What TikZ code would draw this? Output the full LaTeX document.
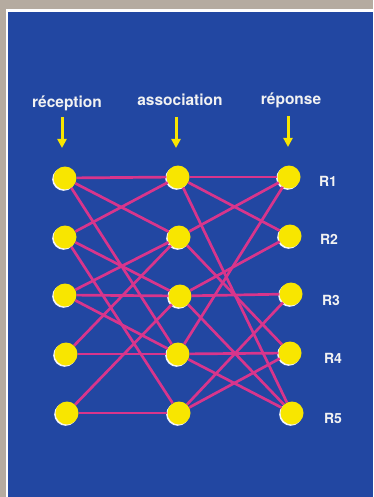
\documentclass[tikz,border=0pt]{standalone}
\usepackage{fontspec}
\setmainfont{TeX Gyre Heros}
\usetikzlibrary{arrows.meta,shadows}
\definecolor{framegray}{HTML}{B5ABA0}
\definecolor{bgblue}{HTML}{2247A2}
\definecolor{nyellow}{HTML}{F8E600}
\definecolor{nmag}{HTML}{D8358C}
\definecolor{txtwhite}{HTML}{F2F2F2}
\tikzset{
  neuron/.style={circle, fill=nyellow, minimum size=23pt, inner sep=0pt,
    drop shadow={shadow xshift=-1.3pt, shadow yshift=-1.3pt, fill=white, opacity=0.95}},
  link/.style={draw=nmag, line width=2.7pt},
  arr/.style={draw=nyellow, line width=3pt, -{Triangle[length=9pt,width=9pt]}},
  head/.style={text=txtwhite, font=\bfseries\fontsize{15.5}{16}\selectfont, anchor=base, inner sep=0pt},
  rlab/.style={text=txtwhite, font=\bfseries\fontsize{14}{15}\selectfont, anchor=base, inner sep=0pt}
}
\begin{document}
\begin{tikzpicture}[x=1pt,y=-1pt]
\useasboundingbox (0,0) rectangle (373,497);
\fill[framegray] (0,0) rectangle (373,497);
\fill[white] (5.5,9.5) rectangle (373,497);
\fill[bgblue] (8,12) rectangle (373,497);

% headings
\node[head] (hr) at (67,108) {réception};
\node[head] (ha) at (180,106) {association};
\node[head] (hp) at (291,105) {réponse};

% arrows
\coordinate (a1s) at (62,117); \coordinate (a1e) at (62,148);
\coordinate (a2s) at (176,117); \coordinate (a2e) at (176,148);
\coordinate (a3s) at (288,116); \coordinate (a3e) at (288,147);
\draw[arr] (a1s) -- (a1e);
\draw[arr] (a2s) -- (a2e);
\draw[arr] (a3s) -- (a3e);

% neurons
\node[neuron] (L1) at (65,178) {};
\node[neuron] (L2) at (65,237) {};
\node[neuron] (L3) at (65,295) {};
\node[neuron] (L4) at (66,354) {};
\node[neuron] (L5) at (67,413) {};
\node[neuron] (M1) at (178,177) {};
\node[neuron] (M2) at (179,237) {};
\node[neuron] (M3) at (180,296) {};
\node[neuron] (M4) at (178,354) {};
\node[neuron] (M5) at (179,413) {};
\node[neuron] (R1) at (289,177) {};
\node[neuron] (R2) at (290,236) {};
\node[neuron] (R3) at (291,294) {};
\node[neuron] (R4) at (290,353) {};
\node[neuron] (R5) at (292,413) {};

% links reception -> association
\draw[link] (L1) -- (M1);
\draw[link] (L1) -- (M2);
\draw[link] (L1) -- (M4);
\draw[link] (L2) -- (M1);
\draw[link] (L2) -- (M3);
\draw[link] (L2) -- (M5);
\draw[link] (L3) -- (M2);
\draw[link] (L3) -- (M3);
\draw[link] (L3) -- (M4);
\draw[link] (L4) -- (M2);
\draw[link] (L4) -- (M4);
\draw[link] (L5) -- (M3);
\draw[link] (L5) -- (M5);

% links association -> reponse
\draw[link] (M1) -- (R1);
\draw[link] (M1) -- (R2);
\draw[link] (M1) -- (R5);
\draw[link] (M2) -- (R1);
\draw[link] (M2) -- (R4);
\draw[link] (M3) -- (R2);
\draw[link] (M3) -- (R3);
\draw[link] (M3) -- (R5);
\draw[link] (M4) -- (R1);
\draw[link] (M4) -- (R4);
\draw[link] (M4) -- (R5);
\draw[link] (M5) -- (R3);
\draw[link] (M5) -- (R4);

% response labels
\node[rlab] (t1) at (328,186) {R1};
\node[rlab] (t2) at (329,244) {R2};
\node[rlab] (t3) at (331,305.5) {R3};
\node[rlab] (t4) at (333,363) {R4};
\node[rlab] (t5) at (333,423) {R5};
\end{tikzpicture}
\end{document}
